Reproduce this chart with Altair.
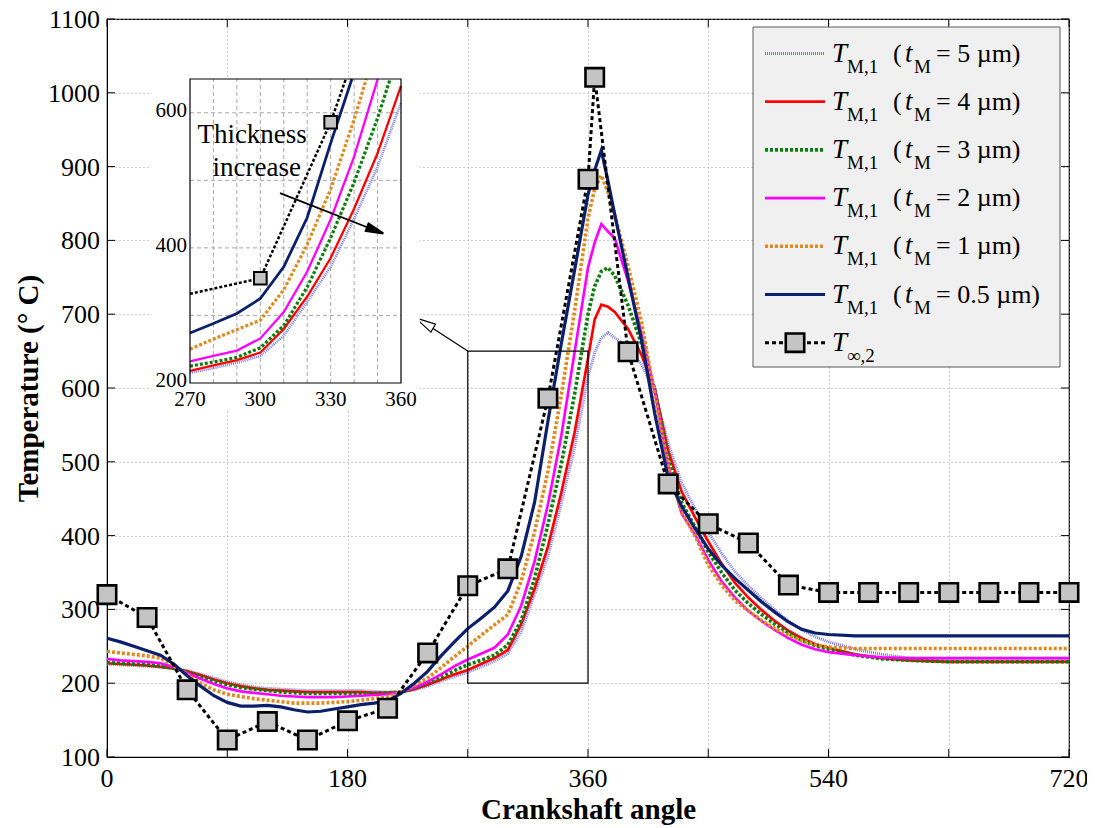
import altair as alt
import pandas as pd
import numpy as np

# ---------------- data ----------------
ANGLES = [0, 10, 20, 30, 40, 50, 60, 70, 80, 90, 100, 110, 120, 130, 140, 150, 160, 170,
          180, 190, 200, 210, 220, 230, 240, 250, 260, 270, 280, 290, 300, 310, 320, 330,
          340, 350, 360, 365, 370, 375, 380, 390, 400, 410, 420, 430, 440, 450, 460, 470,
          480, 490, 500, 510, 520, 530, 540, 560, 580, 600, 630, 660, 690, 720]

T_5UM = [226, 225, 224, 223, 222, 220, 217, 212, 207, 202, 198, 195, 193, 192, 191, 190, 190, 190,
         190, 190, 189, 188, 188, 191, 196, 203, 209, 215, 222, 230, 240, 270, 320, 372,
         443, 520, 615, 648, 668, 675, 668, 656, 632, 595, 525, 472, 437, 405, 376, 351,
         332, 315, 299, 284, 272, 263, 256, 246, 239, 234, 232, 231, 231, 231]

T_4UM = [227, 226, 225, 224, 222, 220, 216, 211, 205, 200, 196, 193, 191, 190, 189, 188, 188, 188,
         188, 188, 187, 187, 188, 192, 198, 205, 212, 218, 226, 234, 245, 280, 328, 385,
         458, 540, 640, 693, 713, 710, 703, 680, 645, 598, 515, 460, 425, 392, 362, 336,
         316, 299, 284, 271, 261, 253, 248, 239, 234, 231, 229, 229, 229, 229]

T_3UM = [228, 227, 226, 225, 223, 220, 215, 209, 203, 198, 194, 192, 190, 188, 187, 186, 186, 186,
         186, 186, 186, 187, 188, 193, 200, 208, 217, 225, 231, 238, 252, 285, 342, 415,
         497, 592, 700, 738, 758, 763, 752, 712, 660, 598, 505, 445, 412, 378, 350, 326,
         308, 293, 280, 268, 258, 251, 246, 238, 233, 231, 229, 229, 229, 229]

T_2UM = [233, 231, 230, 229, 227, 222, 214, 206, 199, 193, 189, 187, 185, 183, 182, 181, 181, 181,
         182, 183, 184, 185, 188, 194, 202, 212, 223, 232, 240, 248, 266, 305, 365, 442,
         535, 649, 763, 797, 822, 812, 803, 745, 675, 595, 495, 430, 402, 367, 338, 316,
         298, 284, 272, 261, 252, 246, 242, 238, 235, 234, 234, 234, 234, 234]

T_1UM = [243, 241, 239, 237, 234, 224, 212, 200, 191, 185, 182, 179, 177, 175, 173, 173, 173, 174,
         175, 177, 179, 182, 188, 197, 207, 221, 236, 250, 265, 279, 293, 338, 405, 487,
         590, 705, 830, 870, 888, 865, 835, 765, 690, 590, 495, 432, 400, 360, 333, 312,
         298, 285, 274, 265, 258, 252, 249, 247, 247, 247, 247, 247, 247, 247]

T_05UM = [261, 256, 250, 244, 238, 226, 210, 196, 183, 174, 169, 169, 170, 168, 164, 161, 162, 165,
          168, 171, 173, 176, 186, 200, 216, 237, 256, 274, 288, 303, 325, 372, 445, 555,
          660, 760, 862, 895, 922, 880, 835, 750, 665, 565, 478, 440, 410, 382, 360, 342,
          326, 310, 296, 283, 273, 268, 266, 264, 264, 264, 264, 264, 264, 264]

TINF_ANGLES = [0, 30, 60, 90, 120, 150, 180, 210, 240, 270, 300, 330, 360, 365, 390, 420, 450,
               480, 510, 540, 570, 600, 630, 660, 690, 720]
TINF_VALUES = [320, 289, 191, 123, 148, 123, 149, 166, 241, 332, 355, 586, 883, 1021, 649, 470,
               416, 390, 333, 323, 323, 323, 323, 323, 323, 323]

THICKNESS_LABELS = ["5", "4", "3", "2", "1", "0.5"]
X_GRID = list(range(0, 721, 90))
X_LABELS = [0, 180, 360, 540, 720]
Y_TICKS = list(range(100, 1101, 100))
INSET_X_LABELS = [270, 300, 330, 360]
INSET_Y_LABELS = [200, 400, 600]

# ---------------- styling ----------------
FONT = "Liberation Serif"
W, H = 962, 738
ARROW = "M0,-1L0.45,1L-0.45,1Z"

SERIES = [  # (values, label, color, width, dash)
    (T_5UM, THICKNESS_LABELS[0], "#7777e4", 3.0, [1, 1]),
    (T_4UM, THICKNESS_LABELS[1], "#ff0000", 2.7, None),
    (T_3UM, THICKNESS_LABELS[2], "#0a7d0a", 3.6, [3, 2]),
    (T_2UM, THICKNESS_LABELS[3], "#ff00ff", 2.7, None),
    (T_1UM, THICKNESS_LABELS[4], "#e08a1e", 3.6, [3, 2]),
    (T_05UM, THICKNESS_LABELS[5], "#0c1f6c", 3.2, None),
]
TINF_STYLE = dict(color="black", strokeWidth=3, strokeDash=[4, 3])

XS = alt.Scale(domain=[0, 720], nice=False, zero=False)
YS = alt.Scale(domain=[100, 1100], nice=False, zero=False)

XAX = alt.Axis(values=X_GRID, labels=False, grid=True, gridDash=[1, 3], gridColor="#9a9a9a",
               gridWidth=1, tickSize=0, domainColor="black", title="Crankshaft angle",
               titleFont=FONT, titleFontSize=29, titleFontWeight="bold", titleColor="black",
               titleX=481, titleY=61, titleBaseline="alphabetic", titleAlign="center")
YAX = alt.Axis(values=Y_TICKS, labels=False, grid=True, gridDash=[1, 3], gridColor="#9a9a9a",
               gridWidth=1, tickSize=0, domainColor="black", title="Temperature (° C)",
               titleFont=FONT, titleFontSize=29, titleFontWeight="bold", titleColor="black",
               titleX=-70, titleY=369, titleBaseline="alphabetic", titleAlign="center",
               titleAngle=270)


def mx(field):
    return alt.X(f"{field}:Q", scale=XS, axis=XAX)


def my(field):
    return alt.Y(f"{field}:Q", scale=YS, axis=YAX)


def line_kwargs(color, width, dash):
    kw = dict(color=color, strokeWidth=width)
    if dash:
        kw["strokeDash"] = dash
    return kw


# ---------------- main plot ----------------
main_layers = []
for vals, lab, color, width, dash in SERIES:
    df = pd.DataFrame({"angle": ANGLES, "temp": vals})
    main_layers.append(
        alt.Chart(df).mark_line(**line_kwargs(color, width, dash)).encode(
            x=mx("angle"), y=my("temp")))

tinf_df = pd.DataFrame({"angle": TINF_ANGLES, "temp": TINF_VALUES})
main_layers.append(alt.Chart(tinf_df).mark_line(**TINF_STYLE).encode(x=mx("angle"), y=my("temp")))
main_layers.append(alt.Chart(tinf_df).mark_square(
    size=340, fill="#c4c4c4", stroke="black", strokeWidth=2.6, opacity=1).encode(
    x=mx("angle"), y=my("temp")))

# inside tick marks (MATLAB style, on all four sides)
xt = pd.DataFrame({"angle": X_GRID})
yt = pd.DataFrame({"temp": Y_TICKS})
main_layers += [
    alt.Chart(xt).mark_rule(color="black").encode(x=mx("angle"), y=alt.value(H), y2=alt.value(H - 8)),
    alt.Chart(xt).mark_rule(color="black").encode(x=mx("angle"), y=alt.value(0), y2=alt.value(8)),
    alt.Chart(yt).mark_rule(color="black").encode(y=my("temp"), x=alt.value(0), x2=alt.value(8)),
    alt.Chart(yt).mark_rule(color="black").encode(y=my("temp"), x=alt.value(W - 8), x2=alt.value(W)),
]

# tick labels (serif, drawn through the main scales)
xl = pd.DataFrame({"angle": X_LABELS, "temp": 100, "txt": [str(v) for v in X_LABELS]})
yl = pd.DataFrame({"angle": 0, "temp": Y_TICKS, "txt": [str(v) for v in Y_TICKS]})
main_layers.append(alt.Chart(xl).mark_text(
    font=FONT, fontSize=26, align="center", baseline="top", dy=9, color="black").encode(
    x=mx("angle"), y=my("temp"), text="txt:N"))
main_layers.append(alt.Chart(yl).mark_text(
    font=FONT, fontSize=26, align="right", baseline="middle", dx=-7, dy=1, color="black").encode(
    x=mx("angle"), y=my("temp"), text="txt:N"))

# zoom box (270..360, 200..650) and pointer arrow to the inset
box_df = pd.DataFrame({"a0": [270], "a1": [360], "t0": [200], "t1": [650]})
main_layers.append(alt.Chart(box_df).mark_rect(fillOpacity=0, stroke="black", strokeWidth=1.2).encode(
    x=mx("a0"), x2="a1:Q", y=my("t0"), y2="t1:Q"))
arr_df = pd.DataFrame({"a0": [270], "t0": [650], "a1": [242], "t1": [683]})
main_layers.append(alt.Chart(arr_df).mark_rule(color="black", strokeWidth=1.2).encode(
    x=mx("a0"), x2="a1:Q", y=my("t0"), y2="t1:Q"))
head_df = pd.DataFrame({"a": [237.5], "t": [688.0]})
main_layers.append(alt.Chart(head_df).mark_point(
    shape=ARROW, angle=300, size=420, fill="white", stroke="black",
    strokeWidth=1.2, opacity=1, filled=False).encode(x=mx("a"), y=my("t")))

main = alt.layer(*main_layers)

# ---------------- inset ----------------
XI = alt.Scale(domain=[270, 360], range=[83, 294], nice=False, zero=False)
YI = alt.Scale(domain=[200, 650], range=[364, 60], nice=False, zero=False)


def ix(field):
    return alt.X(f"{field}:Q", scale=XI, axis=None)


def iy(field):
    return alt.Y(f"{field}:Q", scale=YI, axis=None)


def clip_polyline(xs, ys, xmin, xmax, ymin, ymax):
    out = []
    seg, last = 0, None
    for i in range(len(xs) - 1):
        x0, y0, x1, y1 = xs[i], ys[i], xs[i + 1], ys[i + 1]
        dx, dy = x1 - x0, y1 - y0
        t0, t1, ok = 0.0, 1.0, True
        for p, q in ((-dx, x0 - xmin), (dx, xmax - x0), (-dy, y0 - ymin), (dy, ymax - y0)):
            if p == 0:
                if q < 0:
                    ok = False
                    break
            else:
                r = q / p
                if p < 0:
                    if r > t1:
                        ok = False
                        break
                    t0 = max(t0, r)
                else:
                    if r < t0:
                        ok = False
                        break
                    t1 = min(t1, r)
        if not ok or t1 <= t0:
            continue
        a = (x0 + t0 * dx, y0 + t0 * dy)
        b = (x0 + t1 * dx, y0 + t1 * dy)
        if last is None or abs(a[0] - last[0]) > 1e-9 or abs(a[1] - last[1]) > 1e-9:
            seg += 1
            out.append((a[0], a[1], seg, len(out)))
        out.append((b[0], b[1], seg, len(out)))
        last = b
    return pd.DataFrame(out, columns=["angle", "temp", "seg", "i"])


inset_layers = []
bg_df = pd.DataFrame({"a0": [252.9], "a1": [368.0], "t0": [160], "t1": [650]})
inset_layers.append(alt.Chart(bg_df).mark_rect(fill="white").encode(
    x=ix("a0"), x2="a1:Q", y=iy("t0"), y2="t1:Q"))
gx = pd.DataFrame({"angle": list(range(280, 351, 10)), "t0": 200, "t1": 650})
gy = pd.DataFrame({"temp": list(range(300, 601, 100)), "a0": 270, "a1": 360})
inset_layers.append(alt.Chart(gx).mark_rule(color="#a8a8a8", strokeDash=[4, 3], strokeWidth=1).encode(
    x=ix("angle"), y=iy("t0"), y2="t1:Q"))
inset_layers.append(alt.Chart(gy).mark_rule(color="#a8a8a8", strokeDash=[4, 3], strokeWidth=1).encode(
    y=iy("temp"), x=ix("a0"), x2="a1:Q"))

for vals, lab, color, width, dash in SERIES:
    cdf = clip_polyline(ANGLES, vals, 270, 360, 200, 650)
    inset_layers.append(alt.Chart(cdf).mark_line(**line_kwargs(color, max(width - 0.4, 2.2), dash)).encode(
        x=ix("angle"), y=iy("temp"), detail="seg:N", order="i:Q"))
tcl = clip_polyline(TINF_ANGLES, TINF_VALUES, 270, 360, 200, 650)
inset_layers.append(alt.Chart(tcl).mark_line(color="black", strokeWidth=2.5, strokeDash=[3, 2]).encode(
    x=ix("angle"), y=iy("temp"), detail="seg:N", order="i:Q"))
tin = tinf_df[(tinf_df.angle > 270) & (tinf_df.angle <= 360) & (tinf_df.temp <= 650)]
inset_layers.append(alt.Chart(tin).mark_square(
    size=160, fill="#c4c4c4", stroke="black", strokeWidth=2, opacity=1).encode(
    x=ix("angle"), y=iy("temp")))

inset_layers.append(alt.Chart(box_df).mark_rect(fillOpacity=0, stroke="black", strokeWidth=1.2).encode(
    x=ix("a0"), x2="a1:Q", y=iy("t0"), y2="t1:Q"))
ylab = pd.DataFrame({"temp": INSET_Y_LABELS, "a": 270, "txt": [str(v) for v in INSET_Y_LABELS]})
xlab = pd.DataFrame({"angle": INSET_X_LABELS, "t": 200, "txt": [str(v) for v in INSET_X_LABELS]})
inset_layers.append(alt.Chart(ylab).mark_text(
    font=FONT, fontSize=21, align="right", baseline="middle", dx=-3, dy=-2, color="black").encode(
    x=ix("a"), y=iy("temp"), text="txt:N"))
inset_layers.append(alt.Chart(xlab).mark_text(
    font=FONT, fontSize=21, align="center", baseline="top", dy=6, color="black").encode(
    x=ix("angle"), y=iy("t"), text="txt:N"))
ann = pd.DataFrame({"a": [296.5, 298.5], "t": [556, 506], "txt": ["Thickness", "increase"]})
inset_layers.append(alt.Chart(ann).mark_text(
    font=FONT, fontSize=27, align="center", baseline="alphabetic", color="black").encode(
    x=ix("a"), y=iy("t"), text="txt:N"))
tarr = pd.DataFrame({"a0": [308.4], "t0": [481], "a1": [347.5], "t1": [428]})
inset_layers.append(alt.Chart(tarr).mark_rule(color="black", strokeWidth=1.8).encode(
    x=ix("a0"), x2="a1:Q", y=iy("t0"), y2="t1:Q"))
thead = pd.DataFrame({"a": [349.0], "t": [426.0]})
inset_layers.append(alt.Chart(thead).mark_point(
    shape=ARROW, angle=111, size=300, fill="black", stroke="black",
    filled=True, opacity=1).encode(x=ix("a"), y=iy("t")))

inset = alt.layer(*inset_layers)

# ---------------- legend (drawn in pixel space) ----------------
dummy = pd.DataFrame({"z": [0]})
LX0, LX1, LY0, LY1 = 646, 953, 8, 348
ROW0, ROWSTEP = 34.5, 48.2
leg_layers = [alt.Chart(dummy).mark_rect(fill="#f0f0f0", stroke="#5a5a5a", strokeWidth=1).encode(
    x=alt.value(LX0), x2=alt.value(LX1), y=alt.value(LY0), y2=alt.value(LY1))]

txt_rows = []
for i, (vals, lab, color, width, dash) in enumerate(SERIES):
    ly = ROW0 + ROWSTEP * i
    leg_layers.append(alt.Chart(dummy).mark_rule(**line_kwargs(color, width, dash)).encode(
        x=alt.value(658), x2=alt.value(718), y=alt.value(ly)))
    txt_rows += [("T", 725, ly + 8, "it"), ("M,1", 740, ly + 19, "sub"), ("(", 786, ly + 8, "rm"),
                 ("t", 798, ly + 8, "it"), ("M", 807, ly + 19, "sub"),
                 (f"= {lab} µm)", 829, ly + 8, "rm")]
ly = ROW0 + ROWSTEP * 6
leg_layers.append(alt.Chart(dummy).mark_rule(**TINF_STYLE).encode(
    x=alt.value(658), x2=alt.value(718), y=alt.value(ly)))
leg_layers.append(alt.Chart(dummy).mark_square(
    size=340, fill="#c4c4c4", stroke="black", strokeWidth=2.6, opacity=1).encode(
    x=alt.value(688), y=alt.value(ly)))
txt_rows += [("T", 725, ly + 8, "it"), ("∞,2", 740, ly + 19, "sub")]
tdf = pd.DataFrame(txt_rows, columns=["txt", "px", "py", "kind"])
for kind, size, style in (("it", 27, "italic"), ("rm", 26, "normal"), ("sub", 19, "normal")):
    leg_layers.append(alt.Chart(tdf[tdf.kind == kind]).mark_text(
        font=FONT, fontSize=size, fontStyle=style, align="left", baseline="alphabetic",
        color="black").encode(
        x=alt.X("px:Q", scale=None), y=alt.Y("py:Q", scale=None), text="txt:N"))

legend = alt.layer(*leg_layers)

chart = alt.layer(main, inset, legend).resolve_scale(
    x="independent", y="independent").properties(
    width=W, height=H, autosize=alt.AutoSizeParams(type="none"),
    padding={"left": 99, "top": 11, "right": 18, "bottom": 70},
    background="white").configure_view(stroke="black", strokeWidth=1.2)

chart.save("out.html", embed_options={"renderer": "svg", "actions": False})
